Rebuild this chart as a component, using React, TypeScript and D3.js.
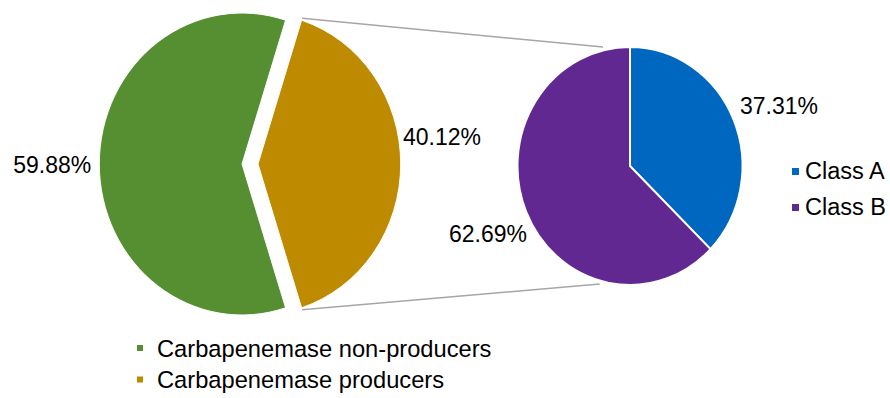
import React from "react";
import * as d3 from "d3";

const mainCategories = ["Carbapenemase producers", "Carbapenemase non-producers"];
const mainValues = [40.12, 59.88];
const mainColors = ["#BE8A00", "#558F32"];

const subCategories = ["Class A", "Class B"];
const subValues = [37.31, 62.69];
const subColors = ["#0067C0", "#622891"];

const legendBottom = ["Carbapenemase non-producers", "Carbapenemase producers"];
const legendBottomColors = ["#558F32", "#BE8A00"];

const W = 890;
const H = 398;
const SX = 0.945;
const FONT = "'Liberation Sans', Arial, Helvetica, sans-serif";

export default function App() {
  const c1 = { x: 242, y: 164 };
  const r1 = 151;
  const explode = 16;
  const c2 = { x: 630, y: 166 };
  const r2 = 119;

  const prodAngle = (mainValues[0] / d3.sum(mainValues)) * 2 * Math.PI;
  const start1 = Math.PI / 2 - prodAngle / 2;
  const pie1 = d3.pie<number>().sort(null).startAngle(start1).endAngle(start1 + 2 * Math.PI);
  const arcs1 = pie1(mainValues);
  const arc1 = d3.arc<d3.PieArcDatum<number>>().innerRadius(0).outerRadius(r1);

  const pie2 = d3.pie<number>().sort(null).startAngle(0).endAngle(2 * Math.PI);
  const arcs2 = pie2(subValues);
  const arc2 = d3.arc<d3.PieArcDatum<number>>().innerRadius(0).outerRadius(r2);

  const fmt = (v: number) => v.toFixed(2) + "%";

  const g = arcs1[0];
  const pt = (a: number) => ({
    x: c1.x + explode + SX * (r1 + 2) * Math.sin(a),
    y: c1.y - (r1 + 2) * Math.cos(a),
  });
  const top1 = pt(g.startAngle);
  const bot1 = pt(g.endAngle);
  const top2 = { x: c2.x - 0.24 * SX * r2, y: c2.y - r2 };
  const bot2 = { x: c2.x - 0.27 * SX * r2, y: c2.y + r2 - 1 };

  return (
    <svg
      width={W}
      height={H}
      style={{ position: "absolute", left: 0, top: 0, background: "#fff" }}
      fontFamily={FONT}
    >
      <rect width={W} height={H} fill="#fff" />
      <line x1={top1.x} y1={top1.y} x2={top2.x} y2={top2.y} stroke="#A6A6A6" strokeWidth={1.5} />
      <line x1={bot1.x} y1={bot1.y} x2={bot2.x} y2={bot2.y} stroke="#A6A6A6" strokeWidth={1.5} />

      {arcs1.map((a, i) => (
        <g
          key={mainCategories[i]}
          transform={`translate(${c1.x + (i === 0 ? explode : 0)},${c1.y}) scale(${SX},1)`}
        >
          <path d={arc1(a) || ""} fill={mainColors[i]} stroke="#fff" strokeWidth={1} />
        </g>
      ))}

      <g transform={`translate(${c2.x},${c2.y}) scale(${SX},1)`}>
        {arcs2.map((a, i) => (
          <path key={subCategories[i]} d={arc2(a) || ""} fill={subColors[i]} stroke="#fff" strokeWidth={2} />
        ))}
      </g>

      <g fontSize={23} fill="#000">
        <text x={c1.x - SX * r1 - 8} y={173} textAnchor="end">{fmt(mainValues[1])}</text>
        <text x={403} y={145}>{fmt(mainValues[0])}</text>
        <text x={740} y={114}>{fmt(subValues[0])}</text>
        <text x={527} y={242} textAnchor="end">{fmt(subValues[1])}</text>
      </g>

      <g fontSize={23.5} fill="#000">
        {subCategories.map((c, i) => (
          <g key={c} transform={`translate(792,${171.5 + i * 36})`}>
            <rect x={0} y={-3.5} width={7} height={7} fill={subColors[i]} />
            <text x={13} y={7}>{c}</text>
          </g>
        ))}
      </g>

      <g fontSize={23.7} fill="#000">
        {legendBottom.map((c, i) => (
          <g key={c} transform={`translate(137,${348 + i * 31.5})`}>
            <rect x={0} y={-3} width={6} height={6} fill={legendBottomColors[i]} />
            <text x={20} y={8.5}>{c}</text>
          </g>
        ))}
      </g>
    </svg>
  );
}
